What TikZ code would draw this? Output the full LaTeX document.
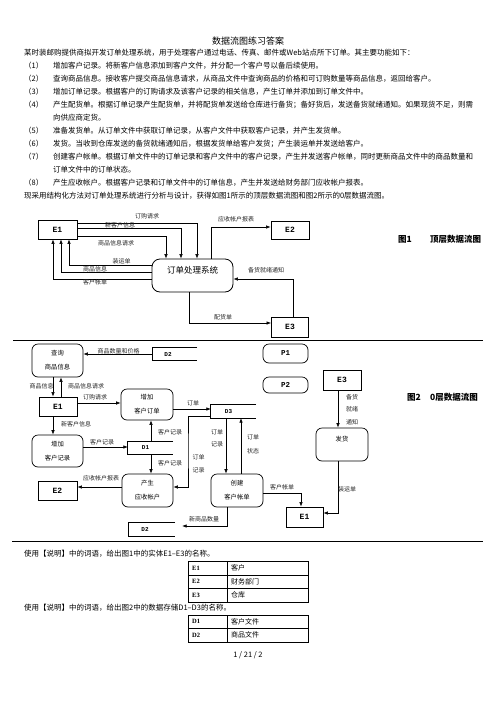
\documentclass[tikz,border=0pt]{standalone}
\usepackage{fontspec}
\setmainfont{Noto Sans CJK SC}
\newfontfamily\monof{Liberation Mono}
\newfontfamily\seriff{Liberation Serif}
\usetikzlibrary{arrows.meta}
\begin{document}
\begin{tikzpicture}[x=1pt,y=-1pt,
  body/.style={anchor=west, inner sep=0, font=\fontsize{7.5}{9}\selectfont},
  lbl/.style={inner sep=0, font=\fontsize{6}{7}\selectfont, text=black!85},
  ent/.style={draw, line width=0.9pt, inner sep=0, font=\monof\bfseries\fontsize{8}{9}\selectfont},
  proc/.style={draw, line width=0.7pt, rounded corners=6pt, inner sep=0, align=center, font=\fontsize{6.3}{14}\selectfont},
  store/.style={inner sep=0, font=\monof\bfseries\fontsize{6}{7}\selectfont},
  storeline/.style={line width=0.8pt},
  arr/.style={-{Latex[length=4.5pt,width=3.5pt]}, line width=0.6pt},
  figcap/.style={anchor=west, inner sep=0, font=\bfseries\fontsize{8.5}{10}\selectfont},
  tcell/.style={anchor=west, inner sep=0, font=\fontsize{7}{8}\selectfont},
  tkey/.style={anchor=west, inner sep=0, font=\seriff\bfseries\fontsize{6.5}{8}\selectfont}
]
\useasboundingbox (0,0) rectangle (496,702);
\fill[white] (0,0) rectangle (496,702);

% ---------- text ----------
\node[inner sep=0, font=\fontsize{9}{10}\selectfont] (title) at (248,41) {数据流图练习答案};
\node[body] (t0) at (24,53) {某时装邮购提供商拟开发订单处理系统，用于处理客户通过电话、传真、邮件或Web站点所下订单。其主要功能如下：};
\node[body] (n1) at (24,66) {（1）};
\node[body] (t1) at (53,66) {增加客户记录。将新客户信息添加到客户文件，并分配一个客户号以备后续使用。};
\node[body] (n2) at (24,79) {（2）};
\node[body] (t2) at (53,79) {查询商品信息。接收客户提交商品信息请求，从商品文件中查询商品的价格和可订购数量等商品信息，返回给客户。};
\node[body] (n3) at (24,92) {（3）};
\node[body] (t3) at (53,92) {增加订单记录。根据客户的订购请求及该客户记录的相关信息，产生订单并添加到订单文件中。};
\node[body] (n4) at (24,105) {（4）};
\node[body] (t4) at (53,105) {产生配货单。根据订单记录产生配货单，并将配货单发送给仓库进行备货；备好货后，发送备货就绪通知。如果现货不足，则需};
\node[body] (t4b) at (53,118) {向供应商定货。};
\node[body] (n5) at (24,131) {（5）};
\node[body] (t5) at (53,131) {准备发货单。从订单文件中获取订单记录，从客户文件中获取客户记录，并产生发货单。};
\node[body] (n6) at (24,144) {（6）};
\node[body] (t6) at (53,144) {发货。当收到仓库发送的备货就绪通知后，根据发货单给客户发货；产生装运单并发送给客户。};
\node[body] (n7) at (24,157) {（7）};
\node[body] (t7) at (53,157) {创建客户帐单。根据订单文件中的订单记录和客户文件中的客户记录，产生并发送客户帐单，同时更新商品文件中的商品数量和};
\node[body] (t7b) at (53,170) {订单文件中的订单状态。};
\node[body] (n8) at (24,183) {（8）};
\node[body] (t8) at (53,183) {产生应收帐户。根据客户记录和订单文件中的订单信息，产生并发送给财务部门应收帐户报表。};
\node[body] (t9) at (24,196) {现采用结构化方法对订单处理系统进行分析与设计，获得如图1所示的顶层数据流图和图2所示的0层数据流图。};

% ---------- figure 1 ----------
\node[ent, minimum width=39, minimum height=19] (E1a) at (57.5,229.5) {E1};
\node[ent, minimum width=38, minimum height=18] (E2a) at (290,230) {E2};
\node[ent, minimum width=37, minimum height=20] (E3a) at (290,327) {E3};
\node[draw, line width=0.8pt, rounded corners=8pt, minimum width=81, minimum height=33, inner sep=0,
  label={[inner sep=0, font=\fontsize{8.5}{10}\selectfont, yshift=5pt]center:订单处理系统}] (P0) at (192.5,275.5) {};

\draw[arr] (E1a.east |- 0,223) -| (P0.north -| 197,0);
\draw[arr] (E1a.east |- 0,228) -| (P0.north -| 181,0);
\draw[arr] (E1a.east |- 0,236) -| (P0.north -| 166,0);
\draw[arr] (P0.west |- 0,265) -| (E1a.south -| 69,0);
\draw[arr] (P0.west |- 0,272) -| (E1a.south -| 61,0);
\draw[arr] (P0.west |- 0,279) -| (E1a.south -| 53,0);
\draw[arr] (P0.north -| 211,0) |- (E2a.west |- 0,227);
\draw[arr] (P0.south -| 189,0) |- (E3a.west |- 0,323);
\draw[arr] (E3a.north -| 293,0) |- (P0.east |- 0,279);

\node[lbl] (l1) at (147,216) {订购请求};
\node[lbl] (l2) at (120,225) {新客户信息};
\node[lbl] (l3) at (116,243) {商品信息请求};
\node[lbl] (l4) at (121.5,261) {装运单};
\node[lbl] (l5) at (95,269) {商品信息};
\node[lbl] (l6) at (95,282) {客户帐单};
\node[lbl] (l7) at (236,219) {应收帐户报表};
\node[lbl] (l8) at (223,317) {配货单};
\node[lbl] (l9) at (266,270) {备货就绪通知};

\node[figcap] (c1a) at (398,239) {图1};
\node[figcap] (c1b) at (430,239) {顶层数据流图};

\draw[line width=0.8pt] (13,340) -- (483,340);

% ---------- figure 2 ----------
\node[proc, minimum width=51, minimum height=33] (Q) at (57.5,360.5) {查询\\商品信息};
\node[store, minimum width=44, minimum height=12, label={[store,xshift=-7pt]center:D2}] (D2t) at (175,354) {};
\draw[storeline] (D2t.north east) -- (D2t.north west) -- (D2t.south west) -- (D2t.south east);
\node[ent, minimum width=38, minimum height=19] (E1b) at (58,406.5) {E1};
\node[proc, minimum width=52, minimum height=31] (AO) at (147,404.5) {增加\\客户订单};
\node[proc, minimum width=51, minimum height=32] (AC) at (57.5,451) {增加\\客户记录};
\node[store, minimum width=45, minimum height=12, label={[store,xshift=-5pt]center:D1}] (D1) at (150.5,448) {};
\draw[storeline] (D1.north east) -- (D1.north west) -- (D1.south west) -- (D1.south east);
\node[proc, minimum width=51, minimum height=33] (AR) at (147.5,490.5) {产生\\应收帐户};
\node[ent, minimum width=39, minimum height=19] (E2b) at (57.5,490.5) {E2};
\node[store, minimum width=45, minimum height=13, label={[store,xshift=-5pt]center:D3}] (D3) at (233.5,411.5) {};
\draw[storeline] (D3.north east) -- (D3.north west) -- (D3.south west) -- (D3.south east);
\node[proc, minimum width=52, minimum height=33] (CB) at (237,490.5) {创建\\客户帐单};
\node[store, minimum width=46, minimum height=13, label={[store,xshift=-7pt]center:D2}] (D2b) at (152,529.5) {};
\draw[storeline] (D2b.north east) -- (D2b.north west) -- (D2b.south west) -- (D2b.south east);
\node[ent, minimum width=37, minimum height=20] (E1c) at (304.5,517) {E1};
\node[draw, line width=0.7pt, rounded corners=6pt, minimum width=52, minimum height=33, inner sep=0,
  label={[inner sep=0, font=\fontsize{6.3}{8}\selectfont, yshift=5.5pt]center:发货}] (FH) at (342,444.5) {};
\node[ent, minimum width=38, minimum height=20] (E3b) at (342,380) {E3};
\node[draw, line width=0.7pt, rounded corners=6pt, minimum width=45, minimum height=19, inner sep=0,
  font=\monof\bfseries\fontsize{7.5}{9}\selectfont] (P1) at (285.5,353.5) {P1};
\node[draw, line width=0.7pt, rounded corners=6pt, minimum width=45, minimum height=16, inner sep=0,
  font=\monof\bfseries\fontsize{7.5}{9}\selectfont] (P2) at (285.5,385) {P2};

\draw[arr] (D2t.west) -- (Q.east |- D2t.west);
\draw[arr] (Q.south -| 53,0) -- (E1b.north -| 53,0);
\draw[arr] (E1b.north -| 61,0) -- (Q.south -| 61,0);
\draw[arr] (E1b.east |- 0,403) -- (AO.west |- 0,403);
\draw[arr] (E1b.south -| 53,0) -- (AC.north -| 53,0);
\draw[arr] (AC.east |- 0,447) -- (D1.west |- 0,447);
\draw[arr] (D1.north -| 151,0) -- (AO.south -| 151,0);
\draw[arr] (D1.south -| 151,0) -- (AR.north -| 151,0);
\draw[arr] (AR.west |- 0,487) -- (E2b.east |- 0,487);
\draw[arr] (AO.east |- 0,409) -- (D3.west |- 0,409);
\draw[arr] (D3.west |- 0,416) -| (188,450) |- (AR.east |- 0,487);
\draw[arr] (D3.south -| 226,0) -- (CB.north -| 226,0);
\draw[arr] (CB.north -| 241,0) -- (D3.south -| 241,0);
\draw[arr] (CB.south -| 227,0) |- ([xshift=7pt]D2b.east |- 0,526);
\draw[arr] (CB.east |- 0,493) -| (E1c.north -| 301,0);
\draw[arr] (FH.south -| 338,0) |- (E1c.east |- 0,513);
\draw[arr] (E3b.south -| 338,0) -- (FH.north -| 338,0);

\node[lbl] (m1) at (118.5,351) {商品数量和价格};
\node[lbl] (m2) at (41.5,386) {商品信息};
\node[lbl] (m3) at (86,386) {商品信息请求};
\node[lbl] (m4) at (95,397) {订购请求};
\node[lbl] (m5) at (76,424) {新客户信息};
\node[lbl] (m6) at (102,442) {客户记录};
\node[lbl] (m7) at (170,432) {客户记录};
\node[lbl] (m8) at (170,463) {客户记录};
\node[lbl] (m9) at (101,478) {应收帐户报表};
\node[lbl] (m10) at (193,403) {订单};
\node[lbl, align=center, font=\fontsize{6}{13}\selectfont] (m11) at (198.5,463.5) {订单\\记录};
\node[lbl, align=center, font=\fontsize{6}{12}\selectfont] (m12) at (217,438) {订单\\记录};
\node[lbl, align=center, font=\fontsize{6}{14}\selectfont] (m13) at (253,444) {订单\\状态};
\node[lbl] (m14) at (204,519) {新商品数量};
\node[lbl] (m15) at (282,487) {客户帐单};
\node[lbl] (m16) at (347,489) {装运单};
\node[lbl, align=center, font=\fontsize{6}{12.5}\selectfont] (m17) at (352,409.5) {备货\\就绪\\通知};

\node[figcap] (c2a) at (407,397) {图2};
\node[figcap] (c2b) at (430,397) {0层数据流图};

\draw[line width=0.8pt] (12,541) -- (483,541);

% ---------- questions and tables ----------
\node[body] (q1) at (24,554) {使用【说明】中的词语，给出图1中的实体E1–E3的名称。};
\draw[line width=0.8pt] (188,561) rectangle (308,602);
\draw[line width=0.8pt] (188,575) -- (308,575) (188,588) -- (308,588) (227,561) -- (227,602);
\node[tkey] (k1) at (192,568) {E1};
\node[tcell] (v1) at (231,568) {客户};
\node[tkey] (k2) at (192,581.5) {E2};
\node[tcell] (v2) at (231,581.5) {财务部门};
\node[tkey] (k3) at (192,595) {E3};
\node[tcell] (v3) at (231,595) {仓库};

\node[body] (q2) at (24,608) {使用【说明】中的词语，给出图2中的数据存储D1–D3的名称。};
\draw[line width=0.8pt] (188,615) rectangle (308,642);
\draw[line width=0.8pt] (188,628) -- (308,628) (227,615) -- (227,642);
\node[tkey] (k4) at (192,621.5) {D1};
\node[tcell] (v4) at (231,621.5) {客户文件};
\node[tkey] (k5) at (192,635) {D2};
\node[tcell] (v5) at (231,635) {商品文件};

\node[inner sep=0, font=\fontsize{7.5}{9}\selectfont] (pg) at (248,655) {1 / 21 / 2};
\end{tikzpicture}
\end{document}
